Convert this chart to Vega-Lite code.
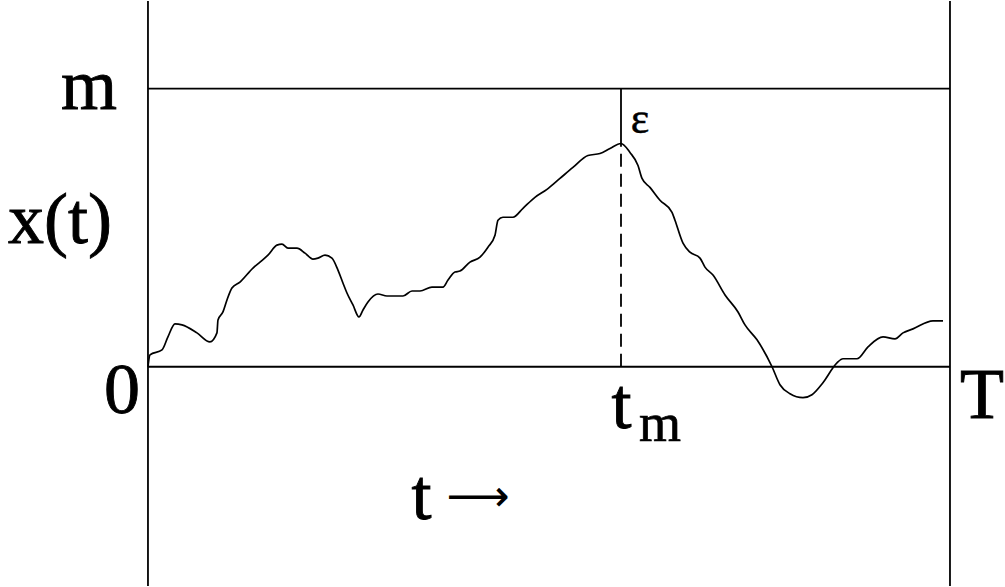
{
  "$schema": "https://vega.github.io/schema/vega-lite/v6.json",
  "width": 1005,
  "height": 587,
  "autosize": {"type": "fit", "contains": "padding"},
  "padding": 0,
  "background": "white",
  "config": {"view": {"stroke": null}},
  "datasets": {
    "curve": [
      {"t": 0, "x": 0}, {"t": 0.0025, "x": 0.043}, {"t": 0.0175, "x": 0.0609}, {"t": 0.0249, "x": 0.1075},
      {"t": 0.0337, "x": 0.1541}, {"t": 0.0424, "x": 0.1505}, {"t": 0.0611, "x": 0.1219}, {"t": 0.0773, "x": 0.0896},
      {"t": 0.086, "x": 0.1219}, {"t": 0.0873, "x": 0.1685}, {"t": 0.0935, "x": 0.1971}, {"t": 0.0985, "x": 0.2401},
      {"t": 0.1047, "x": 0.2832}, {"t": 0.1147, "x": 0.3047}, {"t": 0.1309, "x": 0.3548}, {"t": 0.1397, "x": 0.3763},
      {"t": 0.1496, "x": 0.4014}, {"t": 0.1608, "x": 0.4373}, {"t": 0.1671, "x": 0.4409}, {"t": 0.1746, "x": 0.4265},
      {"t": 0.1858, "x": 0.4265}, {"t": 0.1958, "x": 0.4086}, {"t": 0.2057, "x": 0.3871}, {"t": 0.212, "x": 0.3907},
      {"t": 0.2207, "x": 0.4014}, {"t": 0.2294, "x": 0.3907}, {"t": 0.2369, "x": 0.3477}, {"t": 0.2431, "x": 0.3011},
      {"t": 0.2481, "x": 0.2652}, {"t": 0.2556, "x": 0.2222}, {"t": 0.2631, "x": 0.1792}, {"t": 0.2681, "x": 0.2043},
      {"t": 0.2743, "x": 0.233}, {"t": 0.2868, "x": 0.2616}, {"t": 0.298, "x": 0.2545}, {"t": 0.318, "x": 0.2545},
      {"t": 0.3292, "x": 0.2724}, {"t": 0.3392, "x": 0.2724}, {"t": 0.3541, "x": 0.2867}, {"t": 0.3678, "x": 0.2867},
      {"t": 0.3741, "x": 0.3118}, {"t": 0.3828, "x": 0.3405}, {"t": 0.389, "x": 0.3441}, {"t": 0.4015, "x": 0.3763},
      {"t": 0.414, "x": 0.3943}, {"t": 0.4239, "x": 0.4301}, {"t": 0.4327, "x": 0.4731}, {"t": 0.4364, "x": 0.5269},
      {"t": 0.4426, "x": 0.5376}, {"t": 0.4551, "x": 0.5376}, {"t": 0.4676, "x": 0.5699}, {"t": 0.4825, "x": 0.6093},
      {"t": 0.4975, "x": 0.638}, {"t": 0.5137, "x": 0.6774}, {"t": 0.5299, "x": 0.7168}, {"t": 0.5486, "x": 0.7599},
      {"t": 0.5636, "x": 0.767}, {"t": 0.5761, "x": 0.7849}, {"t": 0.5898, "x": 0.8029}, {"t": 0.601, "x": 0.7706},
      {"t": 0.611, "x": 0.724}, {"t": 0.616, "x": 0.6774}, {"t": 0.6259, "x": 0.6452}, {"t": 0.6384, "x": 0.5986},
      {"t": 0.6534, "x": 0.5556}, {"t": 0.6571, "x": 0.5269}, {"t": 0.6671, "x": 0.4444}, {"t": 0.6758, "x": 0.4122},
      {"t": 0.6883, "x": 0.3907}, {"t": 0.6945, "x": 0.3584}, {"t": 0.7045, "x": 0.3297}, {"t": 0.7195, "x": 0.2581},
      {"t": 0.7357, "x": 0.1971}, {"t": 0.7444, "x": 0.1505}, {"t": 0.7594, "x": 0.0968}, {"t": 0.7781, "x": 0},
      {"t": 0.788, "x": -0.0645}, {"t": 0.8005, "x": -0.0968}, {"t": 0.8167, "x": -0.1111}, {"t": 0.8279, "x": -0.1004},
      {"t": 0.8416, "x": -0.0573}, {"t": 0.8591, "x": 0.0143}, {"t": 0.8666, "x": 0.0287}, {"t": 0.884, "x": 0.0287},
      {"t": 0.8978, "x": 0.0717}, {"t": 0.9165, "x": 0.1075}, {"t": 0.9314, "x": 0.1004}, {"t": 0.9414, "x": 0.1219},
      {"t": 0.9539, "x": 0.1362}, {"t": 0.9788, "x": 0.1649}, {"t": 0.9913, "x": 0.1649}
    ],
    "frame": [
      {"t": 0, "t2": 0, "v": -0.7885, "v2": 1.3154},
      {"t": 1, "t2": 1, "v": -0.7885, "v2": 1.3154},
      {"t": 0, "t2": 1, "v": 0, "v2": 0},
      {"t": 0, "t2": 1, "v": 1, "v2": 1},
      {"t": 0.5898, "t2": 0.5898, "v": 0.8029, "v2": 1}
    ],
    "dashed": [
      {"t": 0.5898, "t2": 0.5898, "v": 0, "v2": 0.8029}
    ],
    "labels": [
      {"t": -0.0736, "v": 0.928, "text": "m"},
      {"t": -0.1097, "v": 0.444, "text": "x(t)"},
      {"t": -0.0324, "v": -0.1649, "text": "0"},
      {"t": 1.0399, "v": -0.1828, "text": "T"},
      {"t": 0.5904, "v": -0.2186, "text": "t"},
      {"t": 0.341, "v": -0.5484, "text": "t"}
    ],
    "sub": [
      {"t": 0.6384, "v": -0.2688, "text": "m"}
    ],
    "eps": [
      {"t": 0.6135, "v": 0.8423, "text": "ε"}
    ],
    "arrow": [
      {"t": 0.4115, "v": -0.4731, "text": "⟶"}
    ]
  },
  "encoding": {
    "x": {"field": "t", "type": "quantitative", "scale": {"domain": [-0.1845, 1.0686], "nice": false, "zero": false}, "axis": null},
    "y": {"field": "v", "type": "quantitative", "scale": {"domain": [-0.7885, 1.3154], "nice": false, "zero": false}, "axis": null}
  },
  "layer": [
    {
      "data": {"name": "frame"},
      "mark": {"type": "rule", "color": "black", "strokeWidth": 1.8},
      "encoding": {"x2": {"field": "t2"}, "y2": {"field": "v2"}}
    },
    {
      "data": {"name": "dashed"},
      "mark": {"type": "rule", "color": "black", "strokeWidth": 1.8, "strokeDash": [13, 7]},
      "encoding": {"x2": {"field": "t2"}, "y2": {"field": "v2"}}
    },
    {
      "data": {"name": "curve"},
      "mark": {"type": "line", "color": "black", "strokeWidth": 1.7, "interpolate": "monotone"},
      "encoding": {"y": {"field": "x", "type": "quantitative"}}
    },
    {
      "data": {"name": "labels"},
      "mark": {"type": "text", "font": "Liberation Serif", "fontSize": 72, "align": "center", "baseline": "alphabetic", "color": "black", "stroke": "black", "strokeWidth": 0.9},
      "encoding": {"text": {"field": "text"}}
    },
    {
      "data": {"name": "sub"},
      "mark": {"type": "text", "font": "Liberation Serif", "fontSize": 54, "align": "center", "baseline": "alphabetic", "color": "black", "stroke": "black", "strokeWidth": 0.7},
      "encoding": {"text": {"field": "text"}}
    },
    {
      "data": {"name": "eps"},
      "mark": {"type": "text", "font": "Liberation Serif", "fontSize": 44, "align": "center", "baseline": "alphabetic", "color": "black", "stroke": "black", "strokeWidth": 0.5},
      "encoding": {"text": {"field": "text"}}
    },
    {
      "data": {"name": "arrow"},
      "mark": {"type": "text", "font": "DejaVu Sans", "fontSize": 44, "align": "center", "baseline": "middle", "color": "black"},
      "encoding": {"text": {"field": "text"}}
    }
  ]
}
